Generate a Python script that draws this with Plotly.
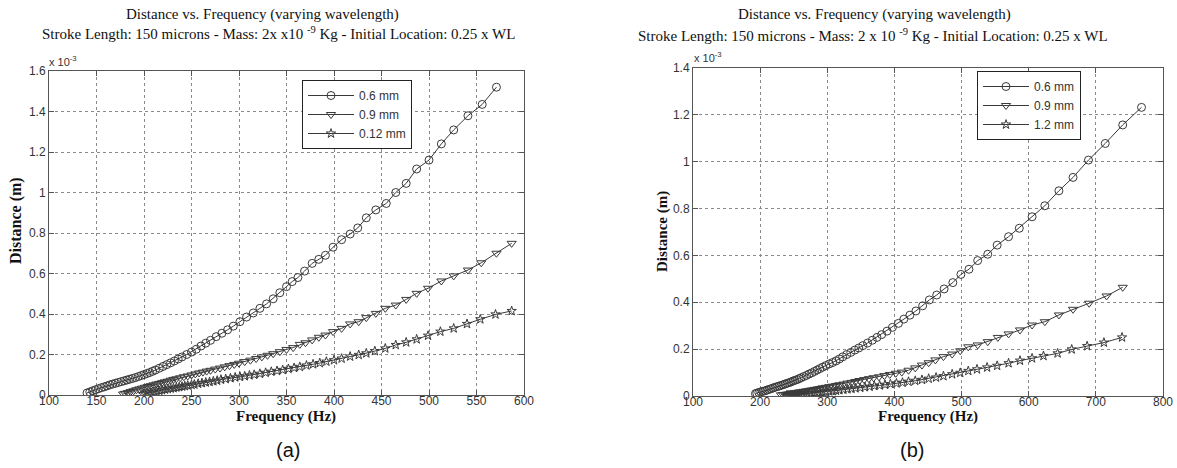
import plotly.graph_objects as go

# ---- Panel (a): wavelength 0.6 / 0.9 / 0.12 mm  (distance in units of 1e-3 m)
a_f_06 = [571, 556, 541, 526, 513, 500, 487, 476, 465, 455, 444, 434, 425, 417, 408, 399, 391, 384,
          377, 369, 362, 356, 350, 343, 336, 329, 322, 315, 308, 301, 294, 288, 282, 276, 270, 265,
          260, 255, 250, 245, 240, 236, 232, 228, 224, 220, 216, 212, 209, 206, 203, 200, 197, 194,
          191, 188, 185, 182, 179, 176, 173, 170, 167, 164, 161, 158, 155, 152, 149, 146, 143, 140]
a_d_06 = [1.52, 1.435, 1.379, 1.309, 1.24, 1.16, 1.116, 1.045, 1.0, 0.946, 0.914, 0.875, 0.825, 0.795,
          0.767, 0.73, 0.69, 0.67, 0.65, 0.612, 0.58, 0.56, 0.535, 0.505, 0.475, 0.45, 0.428, 0.405,
          0.385, 0.362, 0.34, 0.322, 0.305, 0.288, 0.27, 0.256, 0.242, 0.226, 0.212, 0.2, 0.188, 0.178,
          0.168, 0.159, 0.15, 0.141, 0.132, 0.123, 0.117, 0.111, 0.106, 0.101, 0.096, 0.091, 0.086,
          0.082, 0.078, 0.074, 0.07, 0.066, 0.062, 0.058, 0.054, 0.05, 0.045, 0.04, 0.036, 0.031,
          0.026, 0.021, 0.015, 0.01]

a_f_09 = [587, 571, 555, 541, 526, 513, 499, 487, 476, 465, 454, 444, 434, 426, 417, 408, 399, 391,
          384, 377, 370, 364, 357, 350, 343, 336, 330, 324, 318, 312, 306, 300, 295, 290, 285, 280,
          275, 270, 266, 262, 258, 254, 250, 246, 242, 238, 234, 231, 228, 225, 222, 219, 216, 213,
          210, 207, 204, 201, 198, 195, 192, 189, 186, 183, 180, 178]
a_d_09 = [0.749, 0.70, 0.653, 0.617, 0.588, 0.563, 0.527, 0.502, 0.472, 0.444, 0.428, 0.403, 0.382,
          0.362, 0.351, 0.329, 0.313, 0.296, 0.285, 0.272, 0.258, 0.25, 0.234, 0.225, 0.214, 0.204,
          0.196, 0.188, 0.18, 0.172, 0.165, 0.157, 0.151, 0.145, 0.139, 0.133, 0.128, 0.122, 0.118,
          0.113, 0.109, 0.104, 0.099, 0.094, 0.09, 0.085, 0.08, 0.077, 0.073, 0.068, 0.065, 0.061,
          0.057, 0.054, 0.05, 0.046, 0.042, 0.038, 0.034, 0.03, 0.026, 0.021, 0.017, 0.012, 0.008, 0.005]

a_f_012 = [587, 570, 554, 540, 526, 512, 499, 487, 476, 465, 454, 443, 434, 426, 417, 408, 400, 392,
           385, 378, 371, 364, 358, 352, 346, 340, 334, 328, 322, 316, 311, 306, 301, 296, 291, 286,
           281, 277, 273, 269, 265, 261, 257, 253, 250, 246, 243, 240, 237, 234, 231, 228, 225, 222,
           219, 216, 213, 210, 207, 204, 201, 199]
a_d_012 = [0.415, 0.398, 0.374, 0.351, 0.329, 0.313, 0.293, 0.275, 0.26, 0.247, 0.23, 0.217, 0.206,
           0.198, 0.19, 0.18, 0.172, 0.165, 0.158, 0.152, 0.146, 0.139, 0.134, 0.129, 0.124, 0.119,
           0.115, 0.11, 0.105, 0.1, 0.097, 0.093, 0.09, 0.087, 0.083, 0.079, 0.076, 0.071, 0.068,
           0.065, 0.062, 0.059, 0.056, 0.052, 0.05, 0.047, 0.044, 0.042, 0.039, 0.037, 0.034, 0.032,
           0.03, 0.027, 0.024, 0.021, 0.018, 0.015, 0.012, 0.009, 0.006, 0.004]

# ---- Panel (b): wavelength 0.6 / 0.9 / 1.2 mm
b_f_06 = [768, 740, 714, 689, 666, 645, 624, 605, 586, 570, 553, 539, 524, 511, 499, 487, 474, 463,
          452, 442, 432, 423, 414, 406, 397, 389, 381, 374, 367, 360, 353, 347, 341, 335, 329, 323,
          318, 313, 308, 303, 298, 293, 289, 285, 281, 277, 273, 269, 265, 261, 258, 255, 252, 249,
          246, 243, 240, 237, 234, 231, 228, 225, 222, 219, 216, 213, 210, 207, 204, 201, 198, 195, 193]
b_d_06 = [1.232, 1.157, 1.078, 1.007, 0.933, 0.876, 0.812, 0.765, 0.716, 0.68, 0.644, 0.605, 0.578,
          0.541, 0.519, 0.484, 0.457, 0.431, 0.41, 0.385, 0.363, 0.345, 0.328, 0.31, 0.293, 0.277,
          0.262, 0.25, 0.238, 0.226, 0.215, 0.205, 0.196, 0.186, 0.177, 0.167, 0.158, 0.15, 0.143,
          0.137, 0.13, 0.123, 0.117, 0.111, 0.105, 0.099, 0.094, 0.088, 0.083, 0.078, 0.074, 0.07,
          0.067, 0.064, 0.06, 0.057, 0.054, 0.051, 0.048, 0.045, 0.042, 0.04, 0.037, 0.034, 0.031,
          0.028, 0.025, 0.022, 0.02, 0.018, 0.015, 0.012, 0.01]

b_f_09 = [740, 716, 690, 666, 645, 624, 605, 587, 570, 554, 539, 524, 510, 498, 486, 473, 461, 451,
          441, 431, 421, 411, 402, 393, 385, 377, 369, 362, 355, 348, 342, 336, 330, 324, 318, 313,
          308, 303, 298, 293, 289, 285, 281, 277, 273, 269, 265, 261, 258, 255, 252, 249, 246, 243,
          240, 237, 234, 231]
b_d_09 = [0.464, 0.427, 0.396, 0.37, 0.346, 0.317, 0.303, 0.282, 0.265, 0.25, 0.232, 0.218, 0.21,
          0.193, 0.179, 0.168, 0.154, 0.142, 0.132, 0.12, 0.11, 0.102, 0.097, 0.092, 0.087, 0.082,
          0.078, 0.074, 0.07, 0.066, 0.062, 0.058, 0.055, 0.051, 0.048, 0.045, 0.042, 0.04, 0.037,
          0.035, 0.032, 0.03, 0.028, 0.026, 0.024, 0.022, 0.02, 0.018, 0.016, 0.014, 0.013, 0.011,
          0.01, 0.009, 0.008, 0.007, 0.006, 0.005]

b_f_12 = [739, 712, 687, 664, 643, 622, 605, 587, 570, 553, 538, 523, 510, 498, 486, 473, 462, 451,
          441, 431, 421, 412, 403, 394, 386, 378, 370, 363, 356, 349, 342, 336, 330, 324, 318, 313,
          308, 303, 298, 293, 289, 285, 281, 277, 273, 269, 265, 261, 258, 255, 252, 249, 246, 243, 240]
b_d_12 = [0.25, 0.228, 0.213, 0.199, 0.182, 0.171, 0.161, 0.151, 0.14, 0.129, 0.122, 0.114, 0.107,
          0.099, 0.093, 0.085, 0.079, 0.074, 0.069, 0.065, 0.061, 0.057, 0.054, 0.051, 0.048, 0.045,
          0.043, 0.04, 0.038, 0.035, 0.033, 0.031, 0.029, 0.027, 0.025, 0.023, 0.021, 0.02, 0.018,
          0.017, 0.015, 0.014, 0.013, 0.012, 0.011, 0.01, 0.009, 0.008, 0.007, 0.006, 0.006, 0.005,
          0.005, 0.004, 0.004]

names_a = ["0.6 mm", "0.9 mm", "0.12 mm"]
names_b = ["0.6 mm", "0.9 mm", "1.2 mm"]
symbols = ["circle-open", "triangle-down-open", "star-open"]
sizes = [8, 8, 7]

x_ticks_a = [100, 150, 200, 250, 300, 350, 400, 450, 500, 550, 600]
x_ticks_b = [100, 200, 300, 400, 500, 600, 700, 800]
y_ticks_a = [0, 0.2, 0.4, 0.6, 0.8, 1.0, 1.2, 1.4, 1.6]
y_ticks_b = [0, 0.2, 0.4, 0.6, 0.8, 1.0, 1.2, 1.4]

W, H = 1177, 468
LINE = "#3a3a3a"
SANS = "Liberation Sans, Arial, sans-serif"
SERIF = "Liberation Serif, Times New Roman, serif"

fig = go.Figure()

series_a = [(a_f_06, a_d_06), (a_f_09, a_d_09), (a_f_012, a_d_012)]
series_b = [(b_f_06, b_d_06), (b_f_09, b_d_09), (b_f_12, b_d_12)]

for i, (fx, dy) in enumerate(series_a):
    fig.add_trace(go.Scatter(
        x=fx, y=dy, name=names_a[i], mode="lines+markers", xaxis="x", yaxis="y",
        legend="legend",
        line=dict(color=LINE, width=1),
        marker=dict(symbol=symbols[i], size=sizes[i], color=LINE, line=dict(color=LINE, width=1)),
    ))
for i, (fx, dy) in enumerate(series_b):
    fig.add_trace(go.Scatter(
        x=fx, y=dy, name=names_b[i], mode="lines+markers", xaxis="x2", yaxis="y2",
        legend="legend2",
        line=dict(color=LINE, width=1),
        marker=dict(symbol=symbols[i], size=sizes[i], color=LINE, line=dict(color=LINE, width=1)),
    ))


def px_x(p):
    return p / W


def px_y(p):
    return 1 - p / H


axis_common = dict(
    showline=True, linecolor="#555", linewidth=1, mirror="ticks",
    ticks="inside", ticklen=5, tickcolor="#555", automargin=False,
    showgrid=True, gridcolor="#8a8a8a", griddash="dot", gridwidth=1,
    zeroline=False, tickfont=dict(family=SANS, size=12, color="#333"),
)

legend_common = dict(
    xanchor="left", yanchor="top", bgcolor="white", bordercolor="#222", borderwidth=1,
    font=dict(family=SANS, size=12, color="#333"), tracegroupgap=0, itemwidth=46,
)

fig.update_layout(
    width=W, height=H, paper_bgcolor="white", plot_bgcolor="white",
    margin=dict(l=0, r=0, t=0, b=0, pad=0), autosize=False,
    xaxis=dict(domain=[px_x(49), px_x(524)], range=[100, 600], tickvals=x_ticks_a,
               anchor="y", ticklabelstandoff=-5, **axis_common),
    yaxis=dict(domain=[px_y(395), px_y(71)], range=[0, 1.6], tickvals=y_ticks_a,
               ticktext=[f"{v:g}" for v in y_ticks_a], anchor="x", **axis_common),
    xaxis2=dict(domain=[px_x(693), px_x(1163)], range=[100, 800], tickvals=x_ticks_b,
                anchor="y2", ticklabelstandoff=-5, **axis_common),
    yaxis2=dict(domain=[px_y(396), px_y(68)], range=[0, 1.4], tickvals=y_ticks_b,
                ticktext=[f"{v:g}" for v in y_ticks_b], anchor="x2", **axis_common),
    legend=dict(x=px_x(302), y=px_y(80), **legend_common),
    legend2=dict(x=px_x(977), y=px_y(71), **legend_common),
    showlegend=True,
)

title1 = "Distance vs. Frequency (varying wavelength)"
sub_a = "Stroke Length: 150 microns - Mass: 2x x10 <sup>-9</sup> Kg - Initial Location: 0.25 x WL"
sub_b = "Stroke Length: 150 microns - Mass: 2 x 10 <sup>-9</sup> Kg - Initial Location: 0.25 x WL"

texts = [
    (262, 14, title1, SERIF, 15, 0),
    (278, 33, sub_a, SERIF, 15, 0),
    (874, 15, title1, SERIF, 15, 0),
    (873, 35, sub_b, SERIF, 15, 0),
    (286, 416, "<b>Frequency (Hz)</b>", SERIF, 15, 0),
    (928, 416, "<b>Frequency (Hz)</b>", SERIF, 15, 0),
    (16, 221, "<b>Distance (m)</b>", SERIF, 16, -90),
    (662, 232, "<b>Distance (m)</b>", SERIF, 15, -90),
    (288, 450, "(a)", SANS, 20, 0),
    (912, 450, "(b)", SANS, 20, 0),
]
for x, y, t, fam, sz, ang in texts:
    fig.add_annotation(x=px_x(x), y=px_y(y), xref="paper", yref="paper", text=t,
                       showarrow=False, xanchor="center", yanchor="middle", textangle=ang,
                       font=dict(family=fam, size=sz, color="#111"))

# exponent markers above each y axis
for x, y in [(47, 61), (692, 57)]:
    fig.add_annotation(x=px_x(x), y=px_y(y), xref="paper", yref="paper",
                       text="x 10<sup>-3</sup>", showarrow=False, xanchor="left", yanchor="middle",
                       font=dict(family=SANS, size=11, color="#333"))

fig.write_html("out.html")
